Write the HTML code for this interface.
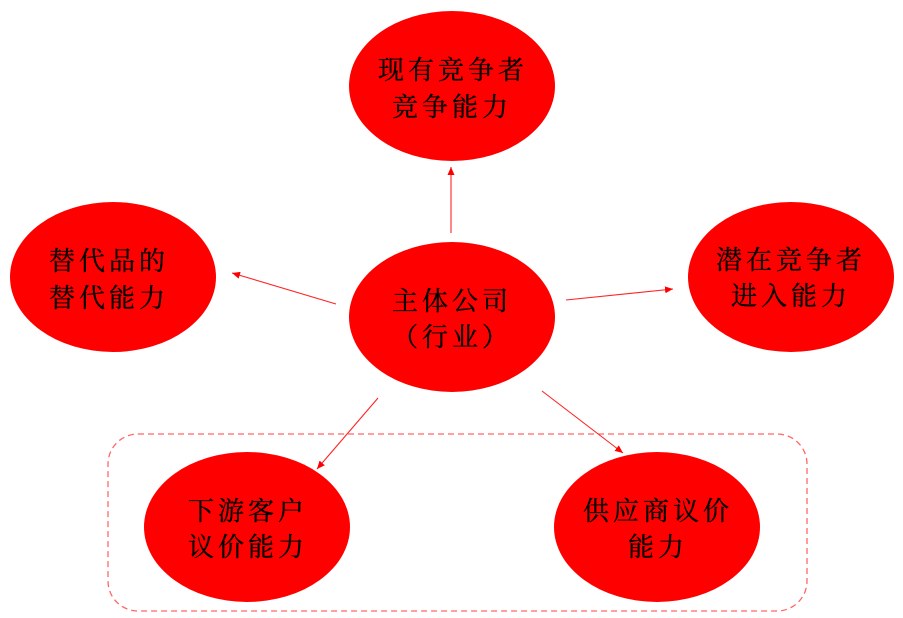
<!DOCTYPE html>
<html>
<head>
<meta charset="utf-8">
<style>
html,body{margin:0;padding:0;background:#fff;width:903px;height:618px;overflow:hidden}
svg{display:block}
text{font-family:"Liberation Serif","Noto Serif CJK SC",serif;font-size:26px;fill:#000;stroke:#000;stroke-width:.35px;letter-spacing:4px}
</style>
</head>
<body>
<svg width="903" height="618" viewBox="0 0 903 618" xmlns="http://www.w3.org/2000/svg">
<defs>
<marker id="a" markerWidth="10" markerHeight="8" refX="8" refY="3.5" orient="auto" markerUnits="userSpaceOnUse">
<path d="M0 0L8 3.5L0 7Z" fill="#f00"/>
</marker>
</defs>
<rect x="108" y="434" width="699" height="177" rx="30" ry="30" fill="none" stroke="#f66" stroke-width="1.3" stroke-dasharray="6 4"/>
<g fill="#f00">
<ellipse cx="452" cy="86" rx="103" ry="75"/>
<ellipse cx="452" cy="317" rx="103" ry="75"/>
<ellipse cx="113" cy="277" rx="103" ry="75"/>
<ellipse cx="791" cy="277" rx="103" ry="75"/>
<ellipse cx="247" cy="527" rx="103" ry="75"/>
<ellipse cx="657" cy="527" rx="103" ry="75"/>
</g>
<g stroke="#f22" stroke-width="1.1" fill="none">
<line x1="451" y1="233" x2="451" y2="167" marker-end="url(#a)"/>
<line x1="336" y1="304" x2="232" y2="273" marker-end="url(#a)"/>
<line x1="566" y1="300" x2="673" y2="289" marker-end="url(#a)"/>
<line x1="378" y1="398" x2="317" y2="469" marker-end="url(#a)"/>
<line x1="542" y1="391" x2="623" y2="453" marker-end="url(#a)"/>
</g>
<text x="378" y="79">现有竞争者</text>
<text x="392" y="116">竞争能力</text>
<text x="392" y="310">主体公司</text>
<text x="392" y="346">（行业）</text>
<text x="49" y="270">替代品的</text>
<text x="49" y="307">替代能力</text>
<text x="716" y="269">潜在竞争者</text>
<text x="731" y="305">进入能力</text>
<text x="188" y="520">下游客户</text>
<text x="188" y="556">议价能力</text>
<text x="583" y="520">供应商议价</text>
<text x="628" y="556">能力</text>
</svg>
</body>
</html>
